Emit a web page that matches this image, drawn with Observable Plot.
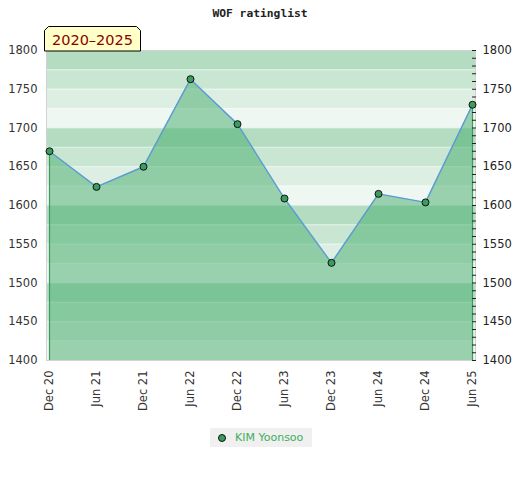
<!DOCTYPE html>
<html>
<head>
<meta charset="utf-8">
<script src="https://cdn.jsdelivr.net/npm/d3@7"></script>
<script src="https://cdn.jsdelivr.net/npm/@observablehq/plot@0.6"></script>
<style>
  html, body { margin: 0; background: #fff; font-family: "DejaVu Sans", sans-serif; }
  #wrap { position: relative; width: 520px; height: 480px; }
  #title { height: 26px; box-sizing: border-box; padding-top: 7px; line-height: 13px; text-align: center;
           font: bold 11.3px "DejaVu Sans Mono", monospace; color: #222; }
  #chart { height: 400px; }
  #chart svg { display: block; }
  #tag { position: absolute; left: 44px; top: 26px; }
  #legendRow { height: 54px; padding-top: 2px; box-sizing: border-box; }
  #legend { position: relative; margin-left: 210px; width: 102px; height: 19px; background: #f0f0f0;
            font: 11px "DejaVu Sans", sans-serif; color: #3cae5c; line-height: 19px; }
  #legend svg { position: absolute; left: 6px; top: 4px; }
  #legend span { position: absolute; left: 25px; top: 0; white-space: nowrap; }
</style>
</head>
<body>
<div id="wrap">
  <div id="title">WOF ratinglist</div>
  <div id="chart"></div>
  <div id="legendRow">
    <div id="legend">
      <svg width="12" height="12"><circle cx="6" cy="6" r="3.5" fill="#3a9d5d" stroke="#111"/></svg>
      <span>KIM Yoonsoo</span>
    </div>
  </div>
  <div id="tag">
    <svg width="98" height="26">
      <polygon points="0.5,4.5 4.5,0.5 92.5,0.5 96.5,4.5 96.5,25 0.5,25" fill="#ffffc8" stroke="#000"/>
      <text x="48.5" y="19" text-anchor="middle" font-family="DejaVu Sans, sans-serif" font-size="14.5" fill="#8b0000">2020–2025</text>
    </svg>
  </div>
</div>
<script>
const periods = ["Dec 20","Jun 21","Dec 21","Jun 22","Dec 22","Jun 23","Dec 23","Jun 24","Dec 24","Jun 25"];
const ratings = [1670, 1624, 1650, 1763, 1705, 1609, 1526, 1615, 1604, 1730];
const player = "KIM Yoonsoo";
const yDomain = [1400, 1800];
const yTicks = [1400, 1450, 1500, 1550, 1600, 1650, 1700, 1750, 1800];
const bandLows = [1400,1425,1450,1475,1500,1525,1550,1575,1600,1625,1650,1675,1700,1725,1750,1775];
const bandStep = 25;
const minorTicks = d3.range(yDomain[0], yDomain[1] + 1, 10);

const data = periods.map((p, i) => ({period: p, rating: ratings[i]}));
const shades = ["#eef7f1", "#dcefe2", "#c8e6d2", "#b3dcc1"];
const bands = bandLows.map(v => ({lo: v, hi: v + bandStep, shade: shades[((v % 100) / bandStep) | 0]}));

const chart = Plot.plot({
  width: 520,
  height: 400,
  marginTop: 24,
  marginBottom: 66,
  marginLeft: 46,
  marginRight: 45,
  style: {fontFamily: "DejaVu Sans, sans-serif", fontSize: "11.5px", color: "#333", background: "transparent"},
  x: {type: "point", domain: periods, padding: 0, label: null},
  y: {domain: yDomain, label: null},
  marks: [
    Plot.rectY(bands, {y1: "lo", y2: "hi", fill: d => d.shade}),
    Plot.ruleY(bandLows.slice(1), {stroke: "#ffffff", strokeOpacity: 0.45}),
    Plot.areaY(data, {x: "period", y1: () => yDomain[0], y2: "rating", fill: "#43ac6b", fillOpacity: 0.5}),
    Plot.ruleX([data[0], data[data.length - 1]], {x: "period", y1: () => yDomain[0], y2: "rating", stroke: "#3a9d5d", strokeWidth: 1.2}),
    Plot.line(data, {x: "period", y: "rating", stroke: "#5b9bd5", strokeWidth: 1.4}),
    Plot.frame({stroke: "#d2d2d2"}),
    Plot.axisY({anchor: "left", ticks: yTicks, tickFormat: "d", tickSize: 0, tickPadding: 9, fill: "#333", label: null}),
    Plot.axisY({anchor: "right", ticks: minorTicks, tickSize: -4, tickFormat: () => "", stroke: "#222", label: null}),
    Plot.axisY({anchor: "right", ticks: yTicks, tickFormat: "d", tickSize: 0, tickPadding: 7, fill: "#222", label: null}),
    Plot.axisX({tickRotate: -90, tickSize: 0, tickPadding: 10, fill: "#333", label: null}),
    Plot.dot(data, {x: "period", y: "rating", r: 3.5, fill: "#3a9d5d", stroke: "#111", strokeWidth: 1})
  ]
});
document.getElementById("chart").append(chart);
document.querySelector("#legend span").textContent = player;
</script>
</body>
</html>
